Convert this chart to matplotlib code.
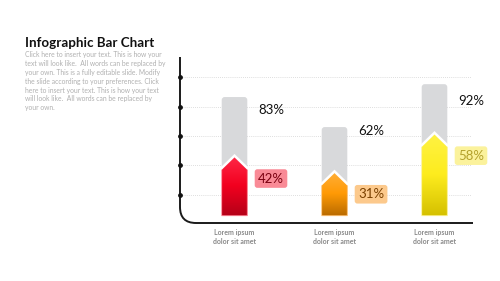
import numpy as np
import matplotlib
matplotlib.use("Agg")
import matplotlib.pyplot as plt
from matplotlib.colors import to_rgb
from matplotlib.patches import FancyBboxPatch, Polygon, PathPatch
from matplotlib.path import Path

## chart data
categories = ["Lorem ipsum\ndolor sit amet"] * 3
target_values = [83, 62, 92]
actual_values = [42, 31, 58]
grid_levels = [14.7, 35.2, 55.7, 76.2, 96.8]

title = "Infographic Bar Chart"
body = (
    "Click here to insert your text. This is how your\n"
    "text will look like.  All words can be replaced by\n"
    "your own. This is a fully editable slide. Modify\n"
    "the slide according to your preferences. Click\n"
    "here to insert your text. This is how your text\n"
    "will look like.  All words can be replaced by\n"
    "your own."
)

## styles (gradient stops: bottom, middle, top)
grad_colors = [
    ("#b40018", "#f2001f", "#ff2a48"),
    ("#b86a00", "#ff9a05", "#ffb03a"),
    ("#d4c000", "#fdec1e", "#fff244"),
]
edge_colors = ["#ff8090", "#ffc070", "#fff490"]
box_colors = ["#f98a96", "#fcc98c", "#fbf29c"]
text_colors = ["#7a0010", "#7a4000", "#b3a12c"]
target_offsets = [-9, -3, -12]

plt.rcParams["font.family"] = ["Lato", "DejaVu Sans"]

W, H = 500, 281
fig = plt.figure(figsize=(W / 100, H / 100), dpi=100)
fig.patch.set_facecolor("white")

# axes placed in pixel terms of the original slide
ax = fig.add_axes([180 / W, (H - 223) / H, (473 - 180) / W, (223 - 57) / H])
ax.set_xlim(-0.545, 2.385)
ax.set_ylim(-5.1, 111)
ax.axis("off")

x_per_px = (2.385 + 0.545) / (473 - 180)
y_per_px = (111 + 5.1) / (223 - 57)
aspect = y_per_px / x_per_px

## grid and dots
for lvl in grid_levels:
    ax.plot([-0.545, 2.36], [lvl, lvl], ls=(0, (1, 1.5)), lw=0.6, color="#d4d4d4", zorder=1)
ax.scatter([-0.545] * len(grid_levels), grid_levels, s=6, color="#111111", zorder=5, clip_on=False)

## curved axis line
r_x = 16 * x_per_px
r_y = 16 * y_per_px
x0, y0 = -0.545, -5.1
verts = [(x0, 111), (x0, y0 + r_y), (x0, y0), (x0 + r_x, y0), (2.385, y0)]
codes = [Path.MOVETO, Path.LINETO, Path.CURVE3, Path.CURVE3, Path.LINETO]
ax.add_patch(PathPatch(Path(verts, codes), fill=False, lw=1.4, color="#1a1a1a", clip_on=False, zorder=4))

bar_w = 0.256
half = bar_w / 2
notch = 8.7

for i, (tv, av) in enumerate(zip(target_values, actual_values)):
    cx = i
    # gray target bar with rounded top
    ax.add_patch(FancyBboxPatch((cx - half, 0), bar_w, tv,
                                boxstyle="round,pad=0,rounding_size=0.03",
                                mutation_aspect=aspect, fc="#d8d9db", ec="none", zorder=2))
    # arrow shaped value bar with gradient
    pts = [(cx - half, 0), (cx - half, av - notch), (cx, av), (cx + half, av - notch), (cx + half, 0)]
    poly = Polygon(pts, closed=True, fc="none", ec=edge_colors[i], lw=0.6, zorder=3.2)
    ax.add_patch(poly)
    c_bot, c_mid, c_top = (np.array(to_rgb(c)) for c in grad_colors[i])
    t = np.linspace(0, 1, 96)
    rgb = np.where(t[:, None] < 0.5,
                   c_bot + (c_mid - c_bot) * (t[:, None] / 0.5),
                   c_mid + (c_top - c_mid) * ((t[:, None] - 0.5) / 0.5))
    img = ax.imshow(rgb[:, None, :], extent=(cx - half, cx + half, 0, av), origin="lower",
                    aspect="auto", zorder=3, interpolation="bilinear")
    img.set_clip_path(poly)
    # white chevron outline
    ax.plot([cx - half, cx, cx + half], [av - notch, av, av - notch], color="white",
            lw=1.8, solid_joinstyle="miter", zorder=3.5)

    ax.text(cx + 0.235, tv + target_offsets[i], f"{tv}%", ha="left", va="center",
            fontsize=9.5, color="#111111", zorder=6)
    ax.text(cx + 0.235, av - 16, f"{av}%", ha="left", va="center", fontsize=9.5,
            color=text_colors[i], zorder=6,
            bbox=dict(boxstyle="round,pad=0.25,rounding_size=0.2", fc=box_colors[i], ec="none"))

    ax.text(cx, -9, categories[i], ha="center", va="top", fontsize=5, fontweight="bold",
            color="#8a8a8a", linespacing=1.35, clip_on=False)

## left text block
fig.text(25 / W, (H - 47.3) / H, title, fontsize=9.6, fontweight="bold", color="#111111",
         ha="left", va="baseline")
fig.text(25 / W, (H - 51.5) / H, body, fontsize=4.9, color="#b0b0b0", ha="left", va="top",
         linespacing=1.3)

fig.savefig("out.png", dpi=100)
